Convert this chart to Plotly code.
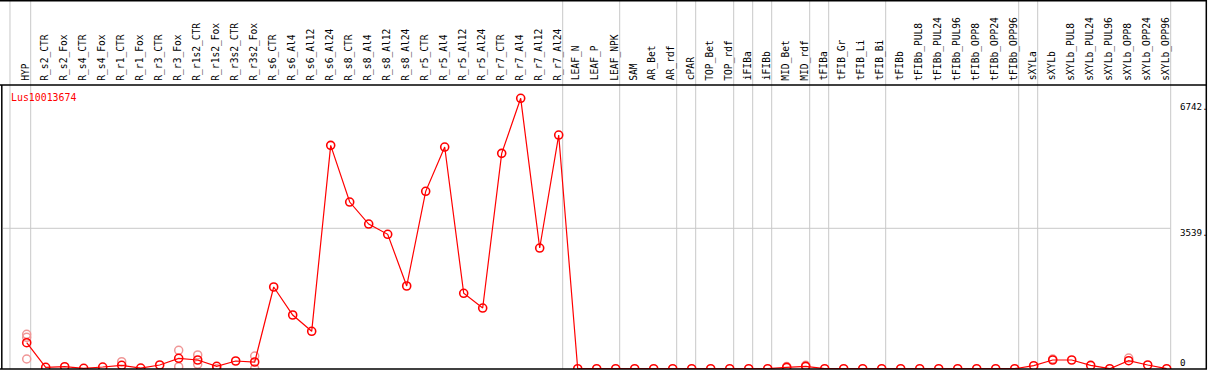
import plotly.graph_objects as go

W, H = 1209, 370

categories = [
    "HYP", "R_s2_CTR", "R_s2_Fox", "R_s4_CTR", "R_s4_Fox", "R_r1_CTR", "R_r1_Fox",
    "R_r3_CTR", "R_r3_Fox", "R_r1s2_CTR", "R_r1s2_Fox", "R_r3s2_CTR", "R_r3s2_Fox",
    "R_s6_CTR", "R_s6_Al4", "R_s6_Al12", "R_s6_Al24",
    "R_s8_CTR", "R_s8_Al4", "R_s8_Al12", "R_s8_Al24",
    "R_r5_CTR", "R_r5_Al4", "R_r5_Al12", "R_r5_Al24",
    "R_r7_CTR", "R_r7_Al4", "R_r7_Al12", "R_r7_Al24",
    "LEAF_N", "LEAF_P", "LEAF_NPK", "SAM", "AR_Bet", "AR_rdf", "cPAR",
    "TOP_Bet", "TOP_rdf", "iFIBa", "iFIBb", "MID_Bet", "MID_rdf",
    "tFIBa", "tFIB_Gr", "tFIB_Li", "tFIB_Bi",
    "tFIBb", "tFIBb_PUL8", "tFIBb_PUL24", "tFIBb_PUL96", "tFIBb_OPP8", "tFIBb_OPP24", "tFIBb_OPP96",
    "sXYLa", "sXYLb", "sXYLb_PUL8", "sXYLb_PUL24", "sXYLb_PUL96", "sXYLb_OPP8", "sXYLb_OPP24", "sXYLb_OPP96",
]

mean_values = [
    648, 35, 50, 10, 42, 85, 17, 92, 259, 217, 60, 192, 167,
    2037, 1339, 932, 5569,
    4156, 3607, 3351, 2062,
    4423, 5527, 1880, 1513,
    5370, 6742, 3009, 5826,
    0, 0, 0, 0, 0, 0, 0,
    0, 0, 0, 0, 33, 58,
    0, 0, 0, 0,
    0, 0, 0, 0, 0, 0, 0,
    75, 217, 217, 82, 0, 200, 92, 0,
]

rep_categories = ["HYP", "HYP", "HYP", "R_r1_CTR", "R_r3_Fox", "R_r3_Fox",
                  "R_r1s2_CTR", "R_r1s2_Fox", "R_r1s2_CTR", "R_r3s2_Fox", "R_r3s2_Fox",
                  "MID_Bet", "MID_rdf", "sXYLb", "sXYLb_OPP8"]
rep_values = [858, 783, 242, 175, 459, 50, 342, 0, 110, 317, 0, 55, 85, 240, 267]

# groups: a separator is drawn after each of these categories
separator_after = ["HYP", "R_r7_Al24", "LEAF_NPK", "AR_rdf", "cPAR", "TOP_rdf", "iFIBa",
                   "iFIBb", "MID_rdf", "tFIBa", "tFIB_Bi", "tFIBb_OPP96", "sXYLa", "sXYLb_OPP96"]

axis_labels = ["6742.", "3539.", "0"]
gene_name = "Lus10013674"

# ---- layout geometry (pixels) ----
PX_LEFT, PX_RIGHT = 3, 1205
PX_TOP, PX_BOT = 85, 369
X0_PX, STEP = 26.7, 19.0
xmin = (PX_LEFT - X0_PX) / STEP
xmax = (PX_RIGHT - X0_PX) / STEP
ZERO_PX, MAX_PX, MAXV = 368.7, 98.3, 6742.0
k = MAXV / (ZERO_PX - MAX_PX)
ymin = (ZERO_PX - PX_BOT) * k
ymax = (ZERO_PX - PX_TOP) * k

def px(x):
    return x / W

def py(y):
    return 1 - y / H

idx = {c: i for i, c in enumerate(categories)}
FONT = "DejaVu Sans Mono"

fig = go.Figure()
fig.add_trace(go.Scatter(
    x=[idx[c] for c in rep_categories], y=rep_values, mode="markers",
    marker=dict(symbol="circle-open", size=8, color="rgb(240,150,150)", line=dict(width=1.5)),
    hoverinfo="skip", showlegend=False,
))
fig.add_trace(go.Scatter(
    x=list(range(len(categories))), y=mean_values, mode="lines+markers",
    line=dict(color="#ff0000", width=1.2),
    marker=dict(symbol="circle-open", size=8, color="#ff0000", line=dict(width=1.6)),
    text=categories, showlegend=False,
))

shapes = []
# group separators
sep_x = [-0.88] + [idx[c] + 0.21 for c in separator_after]
for sx in sep_x:
    shapes.append(dict(type="line", xref="x", yref="paper", x0=sx, x1=sx, y0=py(PX_BOT), y1=1,
                       line=dict(color="#c8c8c8", width=1), layer="below"))
# horizontal mid gridline
shapes.append(dict(type="line", xref="paper", yref="paper", x0=px(PX_LEFT), x1=px(1170.5),
                   y0=py(228.3), y1=py(228.3), line=dict(color="#c8c8c8", width=1), layer="below"))
# frame
blk = dict(color="black", width=1.5)
shapes += [
    dict(type="line", xref="paper", yref="paper", x0=0, x1=px(1207), y0=py(0.7), y1=py(0.7), line=blk),
    dict(type="line", xref="paper", yref="paper", x0=0, x1=px(1207), y0=py(PX_TOP), y1=py(PX_TOP), line=blk),
    dict(type="line", xref="paper", yref="paper", x0=0, x1=px(1207), y0=py(PX_BOT), y1=py(PX_BOT), line=blk),
    dict(type="line", xref="paper", yref="paper", x0=px(1.8), x1=px(1.8), y0=py(PX_BOT), y1=py(PX_TOP), line=blk),
    dict(type="line", xref="paper", yref="paper", x0=px(1206.3), x1=px(1206.3), y0=py(PX_BOT), y1=1, line=blk),
]

annotations = []
for i, c in enumerate(categories):
    annotations.append(dict(
        x=i - 1.5 / STEP, y=py(82.5), xref="x", yref="paper", text=c, showarrow=False,
        textangle=-90, xanchor="center", yanchor="bottom",
        font=dict(family=FONT, size=9.6, color="black"),
    ))
annotations.append(dict(x=px(9), y=py(97.5), xref="paper", yref="paper", text=gene_name,
                        showarrow=False, xanchor="left", yanchor="middle",
                        font=dict(family=FONT, size=9.9, color="#ff0000")))
for lab, yc in zip(axis_labels, [107, 232.5, 362]):
    annotations.append(dict(x=px(1177.5), y=py(yc), xref="paper", yref="paper", text=lab,
                            showarrow=False, xanchor="left", yanchor="middle",
                            font=dict(family=FONT, size=9.2, color="black")))

fig.update_layout(
    width=W, height=H, margin=dict(l=0, r=0, t=0, b=0),
    paper_bgcolor="white", plot_bgcolor="rgba(0,0,0,0)",
    xaxis=dict(domain=[px(PX_LEFT), px(PX_RIGHT)], range=[xmin, xmax], visible=False),
    yaxis=dict(domain=[py(PX_BOT), py(PX_TOP)], range=[ymin, ymax], visible=False),
    shapes=shapes, annotations=annotations, showlegend=False,
)
fig.write_html("out.html", config={"displayModeBar": False},
               post_script="document.body.style.margin='0';document.body.style.overflow='hidden';")
